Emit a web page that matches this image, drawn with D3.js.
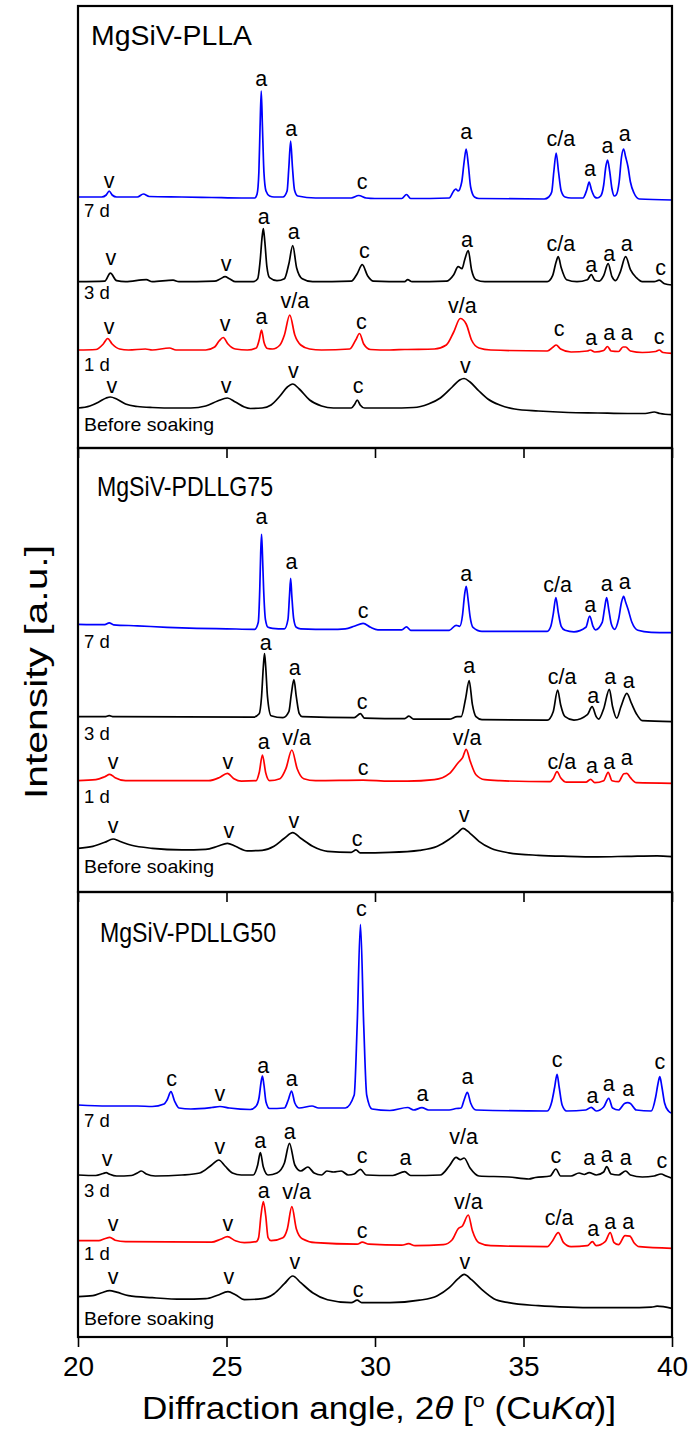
<!DOCTYPE html>
<html><head><meta charset="utf-8">
<script src="https://cdn.jsdelivr.net/npm/d3@7"></script>
<style>body{margin:0;background:#fff}svg text{font-family:"Liberation Sans",Arial,sans-serif;fill:#000}</style>
</head><body><div id="chart"></div>
<script>
// ---------- DATA ----------
const xTicks = [20, 25, 30, 35, 40];
const panelTitles = ["MgSiV-PLLA", "MgSiV-PDLLG75", "MgSiV-PDLLG50"];
const traceNames = ["7 d", "3 d", "1 d", "Before soaking"];
const traceColors = ["#0000ff", "#000000", "#ff0000", "#000000"];
// baseline offsets (a.u.) of the four traces in each panel
const offsetsPLLA = [251, 166.3, 98, 40];
const offsetsG75 = [267.7, 175.3, 111.3, 43.7];
const offsetsG50 = [232, 162, 96.3, 40.3];

// ---- MgSiV-PLLA ----
const plla7d = [[20,0],[20.8,0],[20.95,2],[21.05,6],[21.15,2],[21.3,0],[22,0],[22.2,3],[22.4,0.5],[23.5,0],[24.5,-0.5],[25.5,-1],[25.95,-1],[26.03,3],[26.09,25],[26.13,70],[26.17,106],[26.21,70],[26.26,25],[26.33,6],[26.45,1],[26.6,0],[26.9,0],[27.04,6],[27.1,30],[27.16,56],[27.22,30],[27.29,7],[27.4,1],[28,-1],[29.2,-1],[29.45,1.5],[29.7,-1],[30,-1.5],[30.9,-1.5],[31.06,2.5],[31.2,-1.5],[32.5,-1],[32.65,6],[32.72,8],[32.8,6],[32.92,15],[33,35],[33.07,48],[33.14,33],[33.22,10],[33.35,0],[33.5,-1.5],[35.7,-2],[35.85,0],[35.95,5],[36.02,25],[36.1,44],[36.18,25],[36.27,6],[36.4,0],[36.6,-1],[37,-1],[37.13,7],[37.21,15],[37.29,7],[37.4,0],[37.48,-1],[37.6,1],[37.7,12],[37.77,30],[37.83,37],[37.9,26],[37.98,8],[38.06,1],[38.12,2],[38.22,15],[38.3,40],[38.37,48],[38.44,40],[38.52,30],[38.6,15],[38.72,4],[38.9,-2],[40,-3]];
const plla3d = [[20,0],[20.9,0.5],[21.09,8.5],[21.3,1],[21.6,0],[22.3,2],[22.5,0],[23.2,1.5],[23.4,0],[24.6,0.5],[24.8,3],[24.95,5],[25.1,3],[25.3,0],[25.9,0],[26.05,3],[26.13,20],[26.2,45],[26.24,53],[26.29,40],[26.36,15],[26.45,4],[26.7,1],[26.95,3],[27.1,18],[27.23,36],[27.36,14],[27.55,3],[27.9,0],[29.2,0.5],[29.4,8],[29.57,17],[29.75,6],[29.95,0.5],[31,0],[31.1,2],[31.25,0],[32.4,0.5],[32.65,7],[32.8,15],[32.93,13],[33.02,22],[33.14,31],[33.25,12],[33.4,2],[33.7,0],[35.8,0],[35.98,6],[36.1,20],[36.17,25],[36.27,14],[36.45,2],[36.8,0],[37.15,2],[37.28,7],[37.4,1.5],[37.55,0.5],[37.7,6],[37.85,18],[37.98,5],[38.1,1],[38.25,9],[38.44,25],[38.6,12],[38.8,4],[39,0],[39.4,0],[39.57,1.5],[39.75,-2],[40,-3.3]];
const plla1d = [[20,0],[20.6,0.5],[20.85,6],[21,11.5],[21.15,6],[21.4,1],[21.7,0],[22.27,1],[22.5,0],[23.08,2],[23.3,0],[24.3,0],[24.6,3],[24.75,9],[24.89,12.5],[25.05,6],[25.3,1],[25.7,0],[26,2],[26.1,10],[26.18,20],[26.26,8],[26.38,1.5],[26.55,1],[26.8,5],[26.95,15],[27.13,35],[27.3,15],[27.5,5],[27.8,1],[28.2,0],[29.15,1],[29.35,10],[29.48,16.5],[29.62,6],[29.85,0.5],[30.5,0],[31,0.5],[32,1],[32.4,5],[32.65,18],[32.87,31.5],[33.07,26],[33.25,10],[33.5,2],[33.9,0],[35.8,-1],[36,3],[36.1,5],[36.25,1],[36.6,-2],[37.15,-1],[37.25,0],[37.4,-2],[37.7,-0.5],[37.83,3.5],[37.95,-1],[38.2,-1.5],[38.35,3],[38.44,3],[38.6,-1],[39,-2.5],[39.45,-1.5],[39.57,0],[39.7,-2.5],[40,-3.3]];
const pllaPre = [[20,0],[20.4,2],[20.7,6],[20.95,10],[21.09,11],[21.3,9],[21.6,4],[22,1.5],[22.5,0.5],[23.3,0],[23.8,0],[24.3,2],[24.7,7],[25.03,10],[25.3,6],[25.6,1],[25.8,-0.5],[26.2,0],[26.5,3],[26.8,12],[27.05,21],[27.23,24],[27.45,19],[27.8,8],[28.2,2],[28.6,0],[29.2,0],[29.32,4],[29.4,8],[29.5,3],[29.65,0],[30.5,0],[31.3,0.5],[31.8,4],[32.2,10],[32.6,21],[32.85,28],[33,29.5],[33.2,26],[33.5,17],[33.8,9],[34.2,3],[34.7,-1],[35.5,-3],[36.5,-4.5],[37.5,-5],[38.5,-5.5],[39.1,-5.5],[39.4,-4],[39.6,-5.5],[40,-6.7]];

// ---- MgSiV-PDLLG75 ----
const g75_7d = [[20,0],[20.9,-0.3],[21.05,1.5],[21.2,-0.5],[22,-1.5],[23,-3],[24,-4],[25,-4.5],[25.95,-5],[26.07,2],[26.12,35],[26.15,70],[26.18,90],[26.21,70],[26.25,35],[26.31,5],[26.4,-3],[26.55,-4],[26.95,-4.5],[27.07,5],[27.12,28],[27.16,46],[27.2,28],[27.26,6],[27.35,-3],[27.5,-4.5],[28.5,-5],[29,-4.5],[29.3,-2],[29.6,1],[29.85,-3],[30.1,-5.5],[30.9,-5.5],[31.06,-2.5],[31.2,-6],[32.5,-6],[32.73,-1],[32.85,-2],[32.95,10],[33.01,28],[33.07,38],[33.13,26],[33.2,8],[33.3,-3],[33.6,-7],[35.8,-7],[35.92,-2],[36,10],[36.09,26.6],[36.17,12],[36.27,-2],[36.4,-6],[36.7,-7.5],[37.1,-3],[37.23,8.3],[37.34,-2],[37.42,-5.5],[37.65,2],[37.73,16],[37.8,26.6],[37.87,15],[37.96,0],[38.07,-5],[38.2,5],[38.3,22],[38.37,28],[38.44,22],[38.52,15],[38.65,2],[38.85,-6],[39.3,-8],[40,-8.4]];
const g75_3d = [[20,0],[20.9,0],[21.05,1],[21.2,0],[25.9,-0.5],[26.1,3],[26.18,20],[26.24,50],[26.28,63],[26.32,50],[26.38,20],[26.5,1],[26.9,-1],[27.1,5],[27.18,22],[27.27,37],[27.35,20],[27.45,3],[27.55,0],[29.3,-1],[29.51,3],[29.65,-1.5],[31,-2],[31.14,0.5],[31.3,-2.5],[32.5,-2.5],[32.77,0],[32.9,0],[33.05,18],[33.17,36],[33.28,12],[33.4,0],[33.6,-3],[35.8,-3.5],[36,5],[36.15,26.7],[36.25,12],[36.4,0],[36.7,-3.5],[37.15,2],[37.31,10],[37.45,0],[37.53,-2.5],[37.7,8],[37.89,27.4],[38,10],[38.14,-1.5],[38.28,10],[38.48,23.4],[38.64,13],[38.8,3],[39,-4],[40,-5]];
const g75_1d = [[20,0],[20.6,1],[20.9,4],[21.07,6.4],[21.25,3],[21.6,0],[24.4,0],[24.75,3],[25.03,7.4],[25.25,2],[25.5,-0.5],[26,0],[26.1,8],[26.21,25.7],[26.32,8],[26.45,0],[26.8,2],[27,12],[27.2,30.7],[27.38,12],[27.6,2],[28,0],[29.6,0.5],[30.5,-0.5],[31.1,-0.5],[32,1],[32.5,7],[32.8,18],[32.95,23],[33.07,31.4],[33.2,20],[33.4,6],[33.7,1],[34.2,0],[35.9,-1],[36,2],[36.13,9],[36.25,3],[36.45,-1.5],[37.1,-1.5],[37.26,1.4],[37.4,-2],[37.7,0],[37.85,8.4],[37.98,0],[38.2,-1],[38.38,7],[38.48,7.4],[38.6,3],[38.8,-2],[40,-2.6]];
const g75Pre = [[20,0],[20.5,2],[20.9,6],[21.18,9.3],[21.4,7],[21.8,3],[22.5,0],[23.5,-1.5],[24.3,-1],[24.7,2],[25.03,5],[25.3,2],[25.7,-2.5],[26.2,-2],[26.6,2],[26.95,10],[27.23,15.6],[27.5,10],[27.9,2],[28.4,-3],[29.2,-4],[29.36,-1.6],[29.5,-4.5],[30.5,-4],[31.5,-2],[32.1,2],[32.5,9],[32.8,16],[32.96,20],[33.2,15],[33.5,7],[33.9,0],[34.5,-4.5],[35.5,-7],[36.5,-8],[37.5,-8.5],[38.5,-8],[39.5,-7.5],[40,-8.4]];

// ---- MgSiV-PDLLG50 ----
const g50_7d = [[20,0],[21,-1],[22,-1],[22.5,-1.5],[22.9,1],[23,5],[23.13,13.3],[23.25,4],[23.4,-3],[23.8,-4],[24.5,-2.5],[24.78,-1.5],[25.1,-3],[25.8,-4.5],[26,-1],[26.1,8],[26.16,22],[26.21,29],[26.26,20],[26.33,3],[26.45,-3.5],[26.95,-3],[27.08,5],[27.19,14],[27.3,2],[27.45,-3],[27.88,-1],[28.1,-3],[29,-3],[29.3,10],[29.4,80],[29.51,180.7],[29.62,80],[29.72,10],[29.9,-4],[30.5,-5.5],[31.1,-2.5],[31.3,-5],[31.58,-2.7],[31.8,-5],[32.5,-5],[32.73,-3.5],[32.9,-3],[33,5],[33.11,12.7],[33.22,2],[33.4,-5],[35.8,-6],[35.95,3],[36.05,18],[36.13,30.7],[36.2,18],[36.3,0],[36.45,-6],[37.1,-5],[37.28,-2.3],[37.45,-6],[37.7,-2],[37.87,6.7],[38,-3],[38.2,-5],[38.4,1.5],[38.51,2.3],[38.6,1.5],[38.8,-5],[39.3,-6],[39.45,8],[39.52,20],[39.59,28.3],[39.66,18],[39.75,2],[39.88,-6],[40,-8.3]];
const g50_3d = [[20,0],[20.6,-0.5],[20.85,1.5],[20.95,2.3],[21.05,1],[21.3,-1],[21.8,-0.5],[22,2],[22.13,4],[22.3,1],[22.6,-1],[23.5,0],[24.1,2],[24.5,10],[24.74,15],[24.95,9],[25.2,2],[25.5,0],[25.9,0],[26.05,10],[26.14,22.3],[26.24,8],[26.4,0],[26.7,2],[26.95,12],[27.12,31.7],[27.3,10],[27.5,4],[27.74,8],[27.95,2],[28.2,0],[28.38,4],[28.6,3],[28.86,4],[29.1,0],[29.3,1],[29.51,5.7],[29.7,0],[30.6,-0.5],[31,3.3],[31.2,-0.5],[32.2,0],[32.5,9],[32.73,17.7],[32.87,15.3],[33,17],[33.2,7],[33.5,-1],[34.5,-2],[35.18,-4],[35.4,-2.5],[35.9,-1],[36.09,6],[36.25,-1],[36.6,-1],[36.87,2],[37.05,0.5],[37.21,2.3],[37.45,0],[37.7,3],[37.8,8.3],[37.95,1],[38.2,0],[38.44,4],[38.6,0],[39,-2],[39.4,-1],[39.63,1],[39.8,-1],[40,-3.3]];
const g50_1d = [[20,0],[20.7,0],[20.9,2],[21.07,3.4],[21.25,0.5],[21.6,-1],[24.5,-1.5],[24.8,1.5],[25.03,4],[25.3,0],[25.6,-2],[26,-1],[26.08,3],[26.16,25],[26.24,39],[26.32,25],[26.4,3],[26.5,0],[26.9,3],[27.05,12],[27.2,34],[27.35,12],[27.55,2],[28,-2],[29.4,-3.5],[29.57,-1.5],[29.8,-3.5],[30.9,-4.5],[31.13,-3],[31.35,-5],[32.3,-4],[32.6,1],[32.8,12],[32.95,15],[33.14,25.7],[33.28,10],[33.5,-2],[33.9,-5],[35.8,-6],[35.98,0],[36.17,8],[36.35,-2],[36.6,-6],[37.15,-5],[37.32,-1],[37.45,-5],[37.75,-1],[37.92,8],[38.05,-2],[38.2,-4],[38.42,5],[38.58,4.5],[38.72,-2],[38.9,-6],[40,-7.6]];
const g50Pre = [[20,0],[20.5,1],[20.8,4],[21.07,6],[21.3,4.5],[21.7,1],[22.5,-1],[23.5,-2.5],[24.3,-2],[24.7,1.5],[25.05,5],[25.3,2],[25.6,-3],[26.2,-2],[26.6,3],[26.95,13],[27.23,20.7],[27.5,14],[27.9,4],[28.4,-3],[29.2,-6],[29.4,-3.5],[29.55,-6],[30.5,-6],[31.5,-3.5],[32.1,1],[32.5,9],[32.8,18],[33,22.4],[33.25,17],[33.6,7],[34,-2],[34.5,-6],[35.5,-9],[36.5,-10.5],[37.5,-11],[38.5,-11],[39.3,-10.5],[39.5,-9.5],[40,-11.6]];

// ---- peak marks: [angle, label, height above trace baseline] ----
const plla7dMarks = [[21.05,"v",15],[26.17,"a",117],[27.18,"a",67],[29.57,"c",14],[33.07,"a",64],[36.26,"c/a",57],[37.24,"a",27],[37.83,"a",50],[38.41,"a",62]];
const plla3dMarks = [[21.11,"v",22.7],[24.99,"v",16.7],[26.25,"a",63.7],[27.26,"a",48.7],[29.64,"c",29.7],[33.1,"a",40.7],[36.26,"c/a",36.7],[37.28,"a",15.7],[37.89,"a",26.7],[38.48,"a",36.7],[39.62,"c",12.7]];
const plla1dMarks = [[21.05,"v",22],[24.95,"v",25],[26.18,"a",32],[27.3,"v/a",48],[29.54,"c",27],[32.94,"v/a",43],[36.2,"c",20],[37.28,"a",11],[37.89,"a",16],[38.48,"a",16],[39.57,"c",12]];
const pllaPreMarks = [[21.14,"v",21.3],[24.99,"v",21.3],[27.25,"v",36.3],[29.43,"c",21.3],[33.04,"v",41.3]];
const g75_7dMarks = [[26.18,"a",106.3],[27.19,"a",61.6],[29.6,"c",12.6],[33.07,"a",49.3],[36.15,"c/a",38.3],[37.25,"a",18.6],[37.8,"a",39.3],[38.41,"a",41]];
const g75_3dMarks = [[26.32,"a",72.7],[27.3,"a",47.4],[29.57,"c",13.4],[33.17,"a",49.4],[36.3,"c/a",38.4],[37.35,"a",19.4],[37.92,"a",38.4],[38.54,"a",35]];
const g75_1dMarks = [[21.18,"v",18],[25.05,"v",18],[26.25,"a",37.4],[27.36,"v/a",41.4],[29.6,"c",11.7],[33.1,"v/a",41.4],[36.29,"c/a",17.4],[37.31,"a",14],[37.89,"a",18],[38.48,"a",21.4]];
const g75PreMarks = [[21.18,"v",21.6],[25.08,"v",16.6],[27.27,"v",26.6],[29.4,"c",8.3],[33,"v",32.3]];
const g50_7dMarks = [[23.15,"c",25],[24.78,"v",10],[26.24,"a",38.3],[27.2,"a",25],[29.54,"c",195],[31.6,"a",10],[33.11,"a",26.7],[36.13,"c",44],[37.32,"a",8.3],[37.87,"a",20],[38.53,"a",15],[39.59,"c",41.7]];
const g50_3dMarks = [[20.98,"v",15],[24.78,"v",26.7],[26.14,"a",33.3],[27.13,"a",41.7],[29.57,"c",18.3],[31.03,"a",15.7],[32.98,"v/a",36.7],[36.09,"c",17.7],[37.21,"a",15.7],[37.8,"a",19],[38.44,"a",15.7],[39.66,"c",13.3]];
const g50_1dMarks = [[21.18,"v",15.7],[25.05,"v",15.7],[26.25,"a",49],[27.36,"v/a",47.4],[29.57,"c",9],[33.14,"v/a",37.4],[36.2,"c/a",21.4],[37.35,"a",10.7],[37.92,"a",18],[38.53,"a",18]];
const g50PreMarks = [[21.18,"v",18.4],[25.08,"v",18.4],[27.3,"v",34],[29.43,"c",6],[33.03,"v",34]];

// ---------- LAYOUT ----------
const W = 691, H = 1430;
const left = 78, right = 672;
const panelTops = [6, 448, 892];
const panelBottoms = [448, 892, 1337];
const titleBaselines = [45, 496, 942];
const titleX = [91, 97, 100];
const nameDrops = [[20, 17, 21, 23], [24, 23, 22, 25], [22, 22, 19, 28]];

const panels = [
  {title: panelTitles[0], offsets: offsetsPLLA, traces: [plla7d, plla3d, plla1d, pllaPre], marks: [plla7dMarks, plla3dMarks, plla1dMarks, pllaPreMarks]},
  {title: panelTitles[1], offsets: offsetsG75, traces: [g75_7d, g75_3d, g75_1d, g75Pre], marks: [g75_7dMarks, g75_3dMarks, g75_1dMarks, g75PreMarks]},
  {title: panelTitles[2], offsets: offsetsG50, traces: [g50_7d, g50_3d, g50_1d, g50Pre], marks: [g50_7dMarks, g50_3dMarks, g50_1dMarks, g50PreMarks]}
];

const svg = d3.select("#chart").append("svg").attr("width", W).attr("height", H);
const x = d3.scaleLinear().domain([20, 40]).range([left, right]);

panels.forEach((p, pi) => {
  const top = panelTops[pi], bottom = panelBottoms[pi];
  const y = d3.scaleLinear().domain([0, bottom - top]).range([bottom, top]);
  const g = svg.append("g");

  p.traces.forEach((tr, ti) => {
    const off = p.offsets[ti];
    const line = d3.line().x(d => x(d[0])).y(d => y(off + d[1])).curve(d3.curveMonotoneX);
    g.append("path").datum(tr).attr("d", line)
      .attr("fill", "none").attr("stroke", traceColors[ti])
      .attr("stroke-width", 1.7).attr("stroke-linejoin", "round");
    g.selectAll(null).data(p.marks[ti]).enter().append("text")
      .attr("x", d => x(d[0])).attr("y", d => y(off + d[2]) + 5.8)
      .attr("text-anchor", "middle").attr("font-size", 21.5)
      .text(d => d[1]);
    const nt = g.append("text").attr("x", 84).attr("y", y(off) + nameDrops[pi][ti])
      .attr("font-size", 18.5).text(traceNames[ti]);
    if (ti === 3) nt.attr("textLength", 130).attr("lengthAdjust", "spacingAndGlyphs");
  });

  g.append("text").attr("x", titleX[pi]).attr("y", titleBaselines[pi])
    .attr("font-size", 27.5).attr("textLength", pi === 0 ? 161 : 176).attr("lengthAdjust", "spacingAndGlyphs")
    .text(p.title);

  const ax = d3.axisBottom(x).tickValues(xTicks).tickSize(10).tickSizeOuter(0)
    .tickFormat(pi === 2 ? d3.format("d") : () => "");
  const axg = g.append("g").attr("transform", `translate(0,${bottom})`).call(ax);
  axg.select(".domain").remove();
  axg.selectAll(".tick line").attr("stroke", "#000").attr("stroke-width", 1.6);
  axg.selectAll(".tick text").attr("font-size", 28).attr("dy", "0.92em")
    .attr("font-family", '"Liberation Sans",Arial,sans-serif').attr("fill", "#000");

  g.append("rect").attr("x", left).attr("y", top).attr("width", right - left).attr("height", bottom - top)
    .attr("fill", "none").attr("stroke", "#000").attr("stroke-width", 2.2);
});

const xt = svg.append("text").attr("x", (left + right) / 2 + 4).attr("y", 1419)
  .attr("text-anchor", "middle").attr("font-size", 31)
  .attr("textLength", 474).attr("lengthAdjust", "spacingAndGlyphs");
xt.append("tspan").text("Diffraction angle, 2");
xt.append("tspan").attr("font-style", "italic").text("θ");
xt.append("tspan").text(" [");
xt.append("tspan").attr("font-size", 19).attr("dy", -12).text("o");
xt.append("tspan").attr("dy", 12).text(" (Cu");
xt.append("tspan").attr("font-style", "italic").text("Kα");
xt.append("tspan").text(")]");

svg.append("text").attr("transform", "translate(47,672) rotate(-90)")
  .attr("text-anchor", "middle").attr("font-size", 31)
  .attr("textLength", 254).attr("lengthAdjust", "spacingAndGlyphs")
  .text("Intensity [a.u.]");
</script></body></html>
